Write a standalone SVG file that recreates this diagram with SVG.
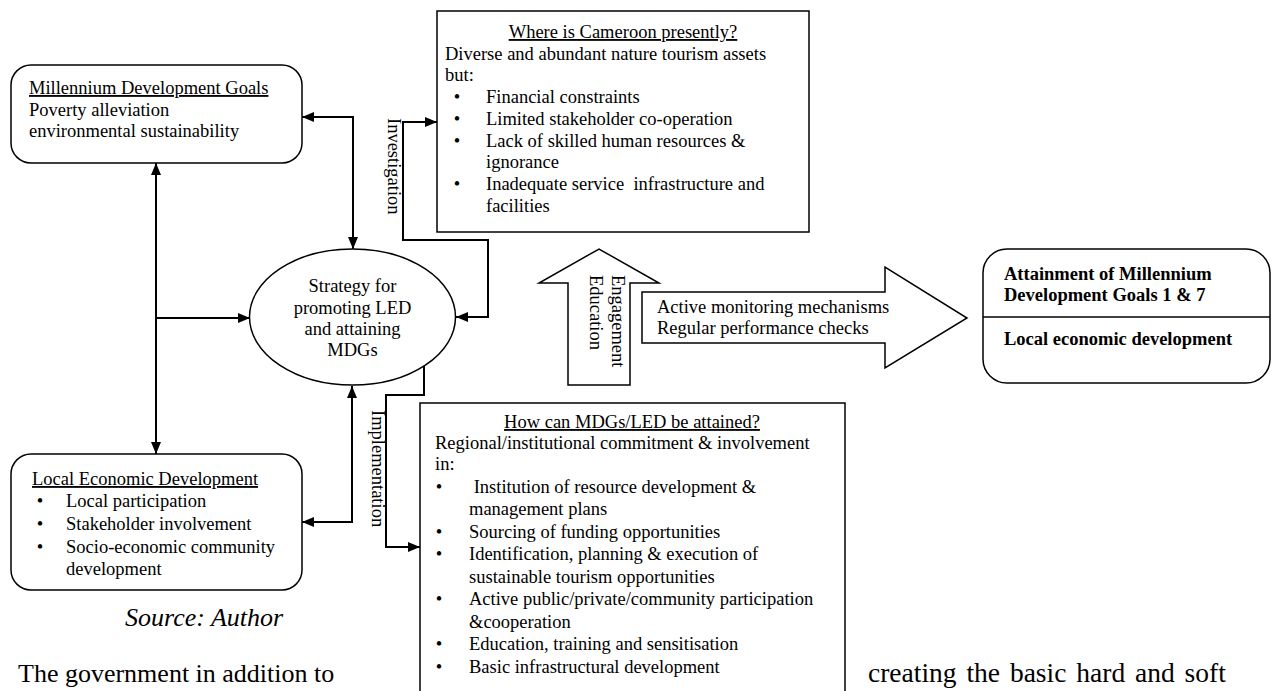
<svg xmlns="http://www.w3.org/2000/svg" width="1274" height="691" viewBox="0 0 1274 691">
<style>
text{font-family:"Liberation Serif","Times New Roman",serif;font-size:18.5px;fill:#000}
.u{text-decoration:underline}
.b{font-weight:bold}
.mid{text-anchor:middle}
.box{fill:#fff;stroke:#000;stroke-width:1.5}
.con{fill:none;stroke:#000;stroke-width:2}
.body{font-size:26px}
.src{font-size:26px;font-style:italic}
</style>
<defs>
<marker id="ah" viewBox="0 0 12 10" refX="12" refY="5" markerWidth="12" markerHeight="10" markerUnits="userSpaceOnUse" orient="auto-start-reverse"><path d="M0,0 L12,5 L0,10 z" fill="#000"/></marker>
</defs>
<rect width="1274" height="691" fill="#fff"/>

<text class="body" x="18" y="682">The government in addition to</text>
<text class="body" x="868" y="682" style="font-size:27.5px" word-spacing="3">creating the basic hard and soft</text>

<g id="connectors">
<path class="con" d="M302,117 H353 V249" marker-start="url(#ah)" marker-end="url(#ah)"/>
<path class="con" d="M156,163 V454" marker-start="url(#ah)" marker-end="url(#ah)"/>
<path class="con" d="M156,318 H250" marker-end="url(#ah)"/>
<path class="con" d="M352,386 V522 H302" marker-start="url(#ah)" marker-end="url(#ah)"/>
<path class="con" d="M437,122 H403 V240 H488 V317 H456" marker-start="url(#ah)" marker-end="url(#ah)"/>
<path class="con" d="M424,366 V395 H386 V547 H420" marker-end="url(#ah)"/>
<text transform="translate(388,118) rotate(90)">Investigation</text>
<text transform="translate(372,410) rotate(90)">Implementation</text>
</g>

<g id="mdg">
<rect class="box" x="11" y="65" width="291" height="98" rx="20"/>
<text class="u" x="29" y="94">Millennium Development Goals</text>
<text x="29" y="115.5">Poverty alleviation</text>
<text x="29" y="137">environmental sustainability</text>
</g>

<g id="led">
<rect class="box" x="11" y="454" width="291" height="136" rx="20"/>
<text class="u" x="32" y="485">Local Economic Development</text>
<text class="mid" x="40" y="507">•</text><text x="66" y="507">Local participation</text>
<text class="mid" x="40" y="530">•</text><text x="66" y="530">Stakeholder involvement</text>
<text class="mid" x="40" y="553">•</text><text x="66" y="553">Socio-economic community</text>
<text x="66" y="575">development</text>
</g>

<text class="src" x="125" y="626">Source: Author</text>

<g id="strategy">
<ellipse class="box" cx="352.5" cy="317" rx="103" ry="68"/>
<text class="mid" x="352.5" y="292">Strategy for</text>
<text class="mid" x="352.5" y="314">promoting LED</text>
<text class="mid" x="352.5" y="335">and attaining</text>
<text class="mid" x="352.5" y="356">MDGs</text>
</g>

<g id="where">
<rect class="box" x="437" y="11" width="372" height="221"/>
<text class="u mid" x="623" y="38">Where is Cameroon presently?</text>
<text x="445" y="59.7">Diverse and abundant nature tourism assets</text>
<text x="445" y="81.4">but:</text>
<text class="mid" x="457" y="103.1">•</text><text x="486" y="103.1">Financial constraints</text>
<text class="mid" x="457" y="124.8">•</text><text x="486" y="124.8">Limited stakeholder co-operation</text>
<text class="mid" x="457" y="146.5">•</text><text x="486" y="146.5">Lack of skilled human resources &amp;</text>
<text x="486" y="168.2">ignorance</text>
<text class="mid" x="457" y="189.9">•</text><text x="486" y="189.9" xml:space="preserve">Inadequate service  infrastructure and</text>
<text x="486" y="211.6">facilities</text>
</g>

<g id="engagement">
<polygon class="box" points="568,385 568,283 539,283 599,249 659,283 630,283 630,385"/>
<text transform="translate(612,275) rotate(90)">Engagement</text>
<text transform="translate(590,275) rotate(90)">Education</text>
</g>

<g id="monitoring">
<polygon class="box" points="642,292 885,292 885,267 967,318 885,368 885,343 642,343"/>
<text x="657" y="313">Active monitoring mechanisms</text>
<text x="657" y="334">Regular performance checks</text>
</g>

<g id="result">
<rect class="box" x="983" y="249" width="287" height="134" rx="24"/>
<line x1="983" y1="317" x2="1270" y2="317" stroke="#000" stroke-width="1.5"/>
<text class="b" x="1004" y="280">Attainment of Millennium</text>
<text class="b" x="1004" y="301">Development Goals 1 &amp; 7</text>
<text class="b" x="1004" y="345">Local economic development</text>
</g>

<g id="how">
<rect class="box" x="420" y="403" width="425" height="300"/>
<text class="u mid" x="632" y="428">How can MDGs/LED be attained?</text>
<text x="435" y="449">Regional/institutional commitment &amp; involvement</text>
<text x="435" y="470">in:</text>
<text class="mid" x="439" y="493">•</text><text x="469" y="493" xml:space="preserve"> Institution of resource development &amp;</text>
<text x="469" y="515">management plans</text>
<text class="mid" x="439" y="538">•</text><text x="469" y="538">Sourcing of funding opportunities</text>
<text class="mid" x="439" y="560">•</text><text x="469" y="560">Identification, planning &amp; execution of</text>
<text x="469" y="583">sustainable tourism opportunities</text>
<text class="mid" x="439" y="605">•</text><text x="469" y="605">Active public/private/community participation</text>
<text x="469" y="628">&amp;cooperation</text>
<text class="mid" x="439" y="650">•</text><text x="469" y="650">Education, training and sensitisation</text>
<text class="mid" x="439" y="673">•</text><text x="469" y="673">Basic infrastructural development</text>
</g>
</svg>
